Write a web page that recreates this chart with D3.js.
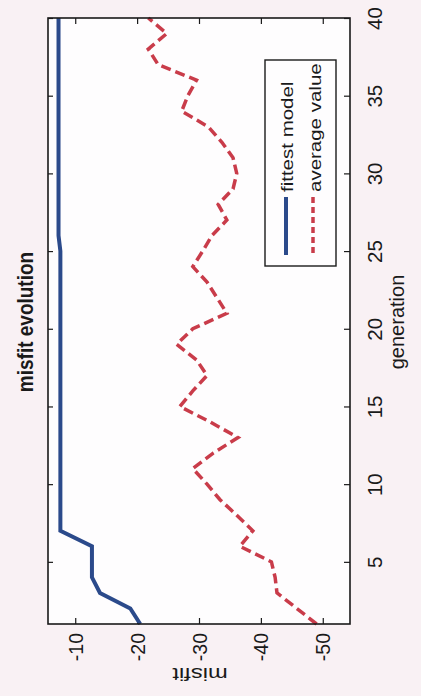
<!DOCTYPE html>
<html>
<head>
<meta charset="utf-8">
<script src="https://cdn.jsdelivr.net/npm/d3@7"></script>
<style>
  html, body { margin: 0; padding: 0; background: #f9f1f4; }
  svg { display: block; font-family: "Liberation Sans", Arial, sans-serif; }
</style>
</head>
<body>
<svg id="chart" width="421" height="696"></svg>
<script>
/* data */
var generations = [1, 2, 3, 4, 5, 6, 7, 8, 9, 10, 11, 12, 13, 14, 15, 16, 17, 18, 19, 20,
                   21, 22, 23, 24, 25, 26, 27, 28, 29, 30, 31, 32, 33, 34, 35, 36, 37, 38, 39, 40];
var fittestModel = [-20.5, -18.9, -14.0, -12.7, -12.7, -12.7, -7.6, -7.6, -7.6, -7.6,
                    -7.6, -7.6, -7.6, -7.6, -7.6, -7.6, -7.6, -7.6, -7.6, -7.6,
                    -7.6, -7.6, -7.6, -7.6, -7.6, -7.3, -7.3, -7.3, -7.3, -7.3,
                    -7.3, -7.3, -7.3, -7.3, -7.3, -7.3, -7.3, -7.3, -7.3, -7.3];
var averageValue = [-49.0, -45.8, -42.6, -42.3, -41.7, -36.6, -38.7, -36.1, -33.4, -31.3,
                    -29.0, -32.3, -36.3, -31.8, -26.9, -29.0, -31.3, -29.6, -26.4, -29.0,
                    -34.5, -32.9, -31.3, -29.0, -30.6, -32.1, -34.5, -33.1, -35.5, -36.1,
                    -35.5, -33.7, -31.5, -27.2, -28.2, -29.6, -23.4, -21.8, -24.8, -21.8];
var genTicks = [5, 10, 15, 20, 25, 30, 35, 40];
var misfitTicks = [-10, -20, -30, -40, -50];
var seriesNames = ['fittest model', 'average value'];
var seriesColors = ['#2b4a8b', '#c93c4a'];

var svg = d3.select('#chart');
var box = {left: 48, right: 350, top: 18, bottom: 624};

// the figure is turned on its side: generation runs bottom -> top, misfit left -> right
var x = d3.scaleLinear().domain([-5.6, -54.4]).range([box.left, box.right]);
var y = d3.scaleLinear().domain([1, 40]).range([box.bottom, box.top]);

// plain hyphen for negatives, like the original
function plainNum(d) { return String(d); }

// rotated text helper
function addText(parent, tx, ty, angle, str, size, anchor, sx, sy) {
  return parent.append('text')
    .attr('transform', 'translate(' + tx + ',' + ty + ') rotate(' + angle + ') scale(' + (sx || 1) + ',' + (sy || 1) + ')')
    .attr('text-anchor', anchor)
    .attr('font-size', size)
    .attr('fill', '#1a1a1a')
    .text(str);
}

svg.append('rect')
  .attr('x', box.left).attr('y', box.top)
  .attr('width', box.right - box.left).attr('height', box.bottom - box.top)
  .attr('fill', '#fefdfe');

/* axes, ticks pointing inwards on all four sides */
function styleAxis(g) {
  g.select('.domain').remove();
  g.selectAll('line').attr('stroke', '#1a1a1a').attr('stroke-width', 1.2);
}

var genAxis = svg.append('g')
  .attr('transform', 'translate(' + box.right + ',0)')
  .call(d3.axisRight(y).tickValues(genTicks).tickSize(-6).tickFormat(plainNum))
  .call(styleAxis);
genAxis.selectAll('text')
  .attr('x', null).attr('dy', null)
  .attr('transform', 'translate(32,0) rotate(-90)')
  .attr('text-anchor', 'middle')
  .attr('font-size', 20.5)
  .attr('font-family', null)
  .attr('fill', '#1a1a1a');

svg.append('g')
  .attr('transform', 'translate(' + box.left + ',0)')
  .call(d3.axisRight(y).tickValues(genTicks).tickSize(5).tickFormat(''))
  .call(styleAxis);

var misAxis = svg.append('g')
  .attr('transform', 'translate(0,' + box.bottom + ')')
  .call(d3.axisBottom(x).tickValues(misfitTicks).tickSize(-6).tickFormat(plainNum))
  .call(styleAxis);
misAxis.selectAll('text')
  .attr('y', null).attr('dy', null)
  .attr('transform', 'translate(7,9) rotate(-90)')
  .attr('text-anchor', 'end')
  .attr('font-size', 19.5)
  .attr('font-family', null)
  .attr('fill', '#1a1a1a');

svg.append('g')
  .attr('transform', 'translate(0,' + box.top + ')')
  .call(d3.axisTop(x).tickValues(misfitTicks).tickSize(-6).tickFormat(''))
  .call(styleAxis);

/* series */
var line = d3.line()
  .x(function(d) { return x(d.v); })
  .y(function(d) { return y(d.g); });

function pairs(values) {
  return generations.map(function(g, i) { return {g: g, v: values[i]}; });
}

var plot = svg.append('g');

plot.append('path')
  .datum(pairs(averageValue))
  .attr('d', line)
  .attr('fill', 'none')
  .attr('stroke', seriesColors[1])
  .attr('stroke-width', 3.5)
  .attr('stroke-dasharray', '10,5');

plot.append('path')
  .datum(pairs(fittestModel))
  .attr('d', line)
  .attr('fill', 'none')
  .attr('stroke', seriesColors[0])
  .attr('stroke-width', 4);

svg.append('rect')
  .attr('x', box.left).attr('y', box.top)
  .attr('width', box.right - box.left).attr('height', box.bottom - box.top)
  .attr('fill', 'none')
  .attr('stroke', '#1a1a1a')
  .attr('stroke-width', 1.6);

/* legend */
var legend = svg.append('g');
legend.append('rect')
  .attr('x', 265).attr('y', 60)
  .attr('width', 71).attr('height', 206)
  .attr('fill', '#fefdfe')
  .attr('stroke', '#1a1a1a')
  .attr('stroke-width', 1.4);

seriesNames.forEach(function(name, i) {
  var lx = 286 + i * 27;
  legend.append('line')
    .attr('x1', lx).attr('x2', lx)
    .attr('y1', 197).attr('y2', 255)
    .attr('stroke', seriesColors[i])
    .attr('stroke-width', i === 0 ? 4 : 3.5)
    .attr('stroke-dasharray', i === 0 ? null : '6,4');
  addText(legend, 293 + i * 28, 192, -90, name, 20.5, 'start', 1, 0.8);
});

/* titles */
addText(svg, 33, 322, -90, 'misfit evolution', 19, 'middle', 1, 1.2).attr('font-weight', 'bold');
addText(svg, 404, 322, -90, 'generation', 20, 'middle');
addText(svg, 200, 668, 180, 'misfit', 19, 'middle', 1.25, 1);
</script>
</body>
</html>
